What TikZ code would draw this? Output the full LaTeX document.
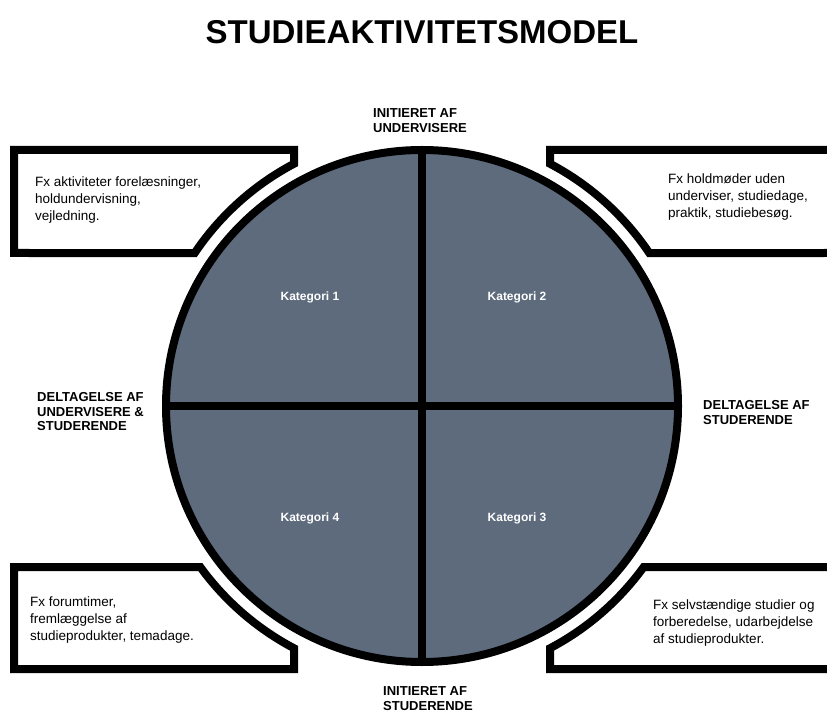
\documentclass[tikz,border=0pt]{standalone}
\usepackage{fontspec}
\setmainfont{Liberation Sans}
\usepackage{xcolor}
\usepackage{tikz}
\usetikzlibrary{calc}
\definecolor{bg}{HTML}{FFFFFF}
\definecolor{ink}{HTML}{000000}
\definecolor{slate}{HTML}{5E6B7D}
\tikzset{
  ring/.style={draw=ink, line width=8pt},
  cross/.style={draw=ink, line width=8pt, line cap=butt},
  box/.style={draw=ink, fill=bg, line width=8pt, line join=miter},
  head/.style={font=\bfseries\fontsize{33}{38}\selectfont, text=ink, inner sep=0pt},
  axis/.style={font=\bfseries\fontsize{13}{14.5}\selectfont, text=ink,
    align=left, anchor=west, inner sep=0pt},
  cat/.style={font=\bfseries\fontsize{12}{13}\selectfont, text=white, inner sep=0pt},
  info/.style={font=\fontsize{13.5}{17}\selectfont, text=ink,
    align=left, anchor=west, inner sep=0pt}
}
\begin{document}
\begin{tikzpicture}[x=1pt, y=1pt]
  \clip (0,0) rectangle (827,713);
  \fill[bg] (0,0) rectangle (827,713);

  \coordinate (C) at (422,307);

  % title
  \node[head] (title) at (422,681) {STUDIEAKTIVITETSMODEL};

  % the four example boxes, cut round the circle
  \path[box] (14,563) -- (294,563) -- ($(C)+(117.85:274)$)
    arc[start angle=117.85, end angle=146.06, radius=274] -- (14,460) -- cycle;
  \path[box] (550,563) -- (840,563) -- (840,460) -- ($(C)+(33.94:274)$)
    arc[start angle=33.94, end angle=62.15, radius=274] -- cycle;
  \path[box] (14,146) -- ($(C)+(215.99:274)$)
    arc[start angle=215.99, end angle=242.15, radius=274] -- (294,44) -- (14,44) -- cycle;
  \path[box] (840,146) -- ($(C)+(-35.99:274)$)
    arc[start angle=-35.99, end angle=-62.15, radius=274] -- (550,44) -- (840,44) -- cycle;

  % circle and its quarters
  \fill[slate] (C) circle (256);
  \coordinate (qn) at ($(C)+(90:260)$);
  \coordinate (qs) at ($(C)+(-90:260)$);
  \coordinate (qw) at ($(C)+(180:260)$);
  \coordinate (qe) at ($(C)+(0:260)$);
  \begin{scope}
    \clip (C) circle (256);
    \draw[cross] (qn) -- (qs);
    \draw[cross] (qw) -- (qe);
  \end{scope}
  \draw[ring] (C) circle (256);

  \node[cat] (k1) at (310,416) {Kategori 1};
  \node[cat] (k2) at (517,416) {Kategori 2};
  \node[cat] (k4) at (310,195) {Kategori 4};
  \node[cat] (k3) at (517,195) {Kategori 3};

  % axis labels
  \node[axis] (undv) at (373,592.5) {INITIERET AF\\UNDERVISERE};
  \node[axis] (stud) at (383,14.5) {INITIERET AF\\STUDERENDE};
  \node[axis] (both) at (37,301) {DELTAGELSE AF\\UNDERVISERE \&\\STUDERENDE};
  \node[axis] (only) at (703,300.5) {DELTAGELSE AF\\STUDERENDE};

  % box texts
  \node[info] (ex1) at (35,513) {Fx aktiviteter forelæsninger,\\holdundervisning,\\vejledning.};
  \node[info] (ex2) at (668,516) {Fx holdmøder uden\\underviser, studiedage,\\praktik, studiebesøg.};
  \node[info] (ex4) at (30,93) {Fx forumtimer,\\fremlæggelse af\\studieprodukter, temadage.};
  \node[info] (ex3) at (653,90) {Fx selvstændige studier og\\forberedelse, udarbejdelse\\af studieprodukter.};
\end{tikzpicture}
\end{document}
